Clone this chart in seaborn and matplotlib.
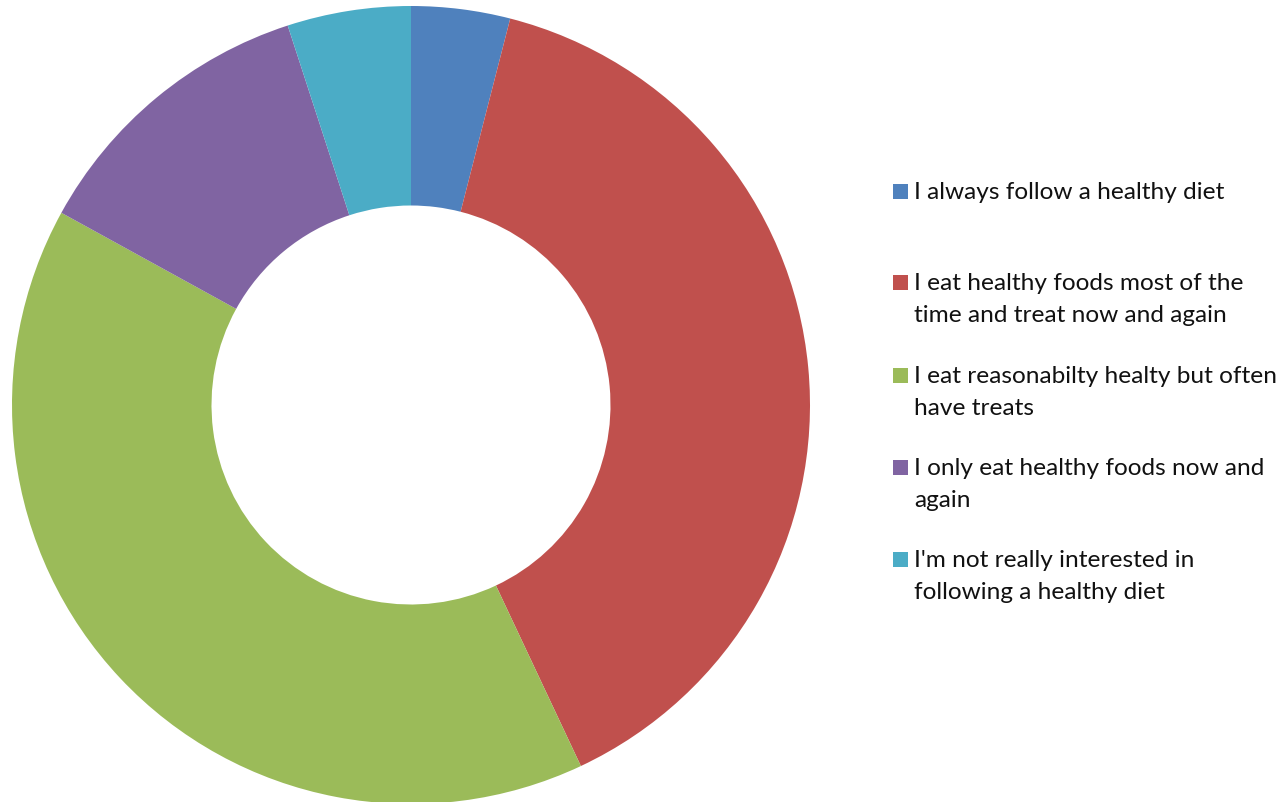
import matplotlib
matplotlib.use("Agg")
import matplotlib.pyplot as plt
from matplotlib.patches import Rectangle
import seaborn as sns

categories = [
    "I always follow a healthy diet",
    "I eat healthy foods most of the\ntime and treat now and again",
    "I eat reasonabilty healty but often\nhave treats",
    "I only eat healthy foods now and\nagain",
    "I'm not really interested in\nfollowing a healthy diet",
]
values = [4, 39, 40, 12, 5]
colors = ["#4F81BD", "#C0504D", "#9BBB59", "#8064A2", "#4BACC6"]

sns.set_style("white")
plt.rcParams["font.family"] = ["Lato", "DejaVu Sans"]

W, H = 1287, 802
fig = plt.figure(figsize=(W / 100, H / 100), dpi=100)
cx, cy, r = 411, 405, 399
ax = fig.add_axes([(cx - r) / W, (H - cy - r) / H, 2 * r / W, 2 * r / H])
ax.pie(values, colors=colors, startangle=90, counterclock=False, radius=1,
       wedgeprops=dict(width=0.5, linewidth=0))
ax.set_xlim(-1, 1)
ax.set_ylim(-1, 1)
ax.set_aspect("equal")
ax.axis("off")

# legend, drawn manually
baselines = [199, 290, 383, 475, 567]
line_gap = 32
for lab, col, b in zip(categories, colors, baselines):
    fig.patches.append(Rectangle((893 / W, (H - b) / H), 15 / W, 15 / H,
                                 transform=fig.transFigure, facecolor=col,
                                 edgecolor="none"))
    for i, line in enumerate(lab.split("\n")):
        fig.text(914 / W, (H - b - i * line_gap) / H, line, fontsize=17.6,
                 color="#111111", ha="left", va="baseline")

fig.savefig("out.png", dpi=100, facecolor="white")
